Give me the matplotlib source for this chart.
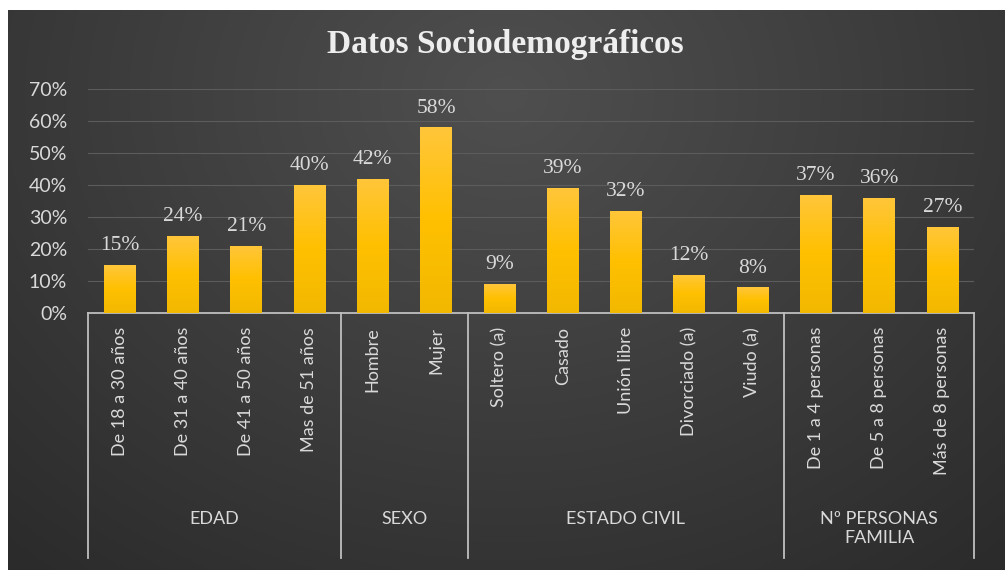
import matplotlib.pyplot as plt
import matplotlib.transforms as mtransforms
from matplotlib.colors import LinearSegmentedColormap
import numpy as np

# Datos
categorias = ['De 18 a 30 años', 'De 31 a 40 años', 'De 41 a 50 años', 'Mas de 51 años',
              'Hombre', 'Mujer',
              'Soltero (a)', 'Casado', 'Unión libre', 'Divorciado (a)', 'Viudo (a)',
              'De 1 a 4 personas', 'De 5 a 8 personas', 'Más de 8 personas']
valores = [0.15, 0.24, 0.21, 0.40, 0.42, 0.58, 0.09, 0.39, 0.32, 0.12, 0.08, 0.37, 0.36, 0.27]
grupos = ['EDAD', 'SEXO', 'ESTADO CIVIL', 'Nº PERSONAS\nFAMILIA']
tamano_grupos = [4, 2, 5, 3]

W, H = 1005, 577
fig = plt.figure(figsize=(W / 100, H / 100), dpi=100)
fig.patch.set_facecolor('white')

# Fondo oscuro con degradado
bg = fig.add_axes([8 / W, 7 / H, 996 / W, 560 / H])
bg.set_axis_off()
yy, xx = np.mgrid[0:1:200j, 0:1:300j]
r = np.sqrt(((xx - 0.5) / 0.75) ** 2 + ((yy - 0.15) / 1.1) ** 2)
grad = np.clip(1 - r, 0, 1)
base = 0.17 + 0.14 * grad
img = np.dstack([base, base, base])
bg.imshow(img, aspect='auto', extent=[0, 1, 0, 1], interpolation='bicubic')
bg.set_xlim(0, 1)
bg.set_ylim(0, 1)

ax = fig.add_axes([88 / W, (H - 313) / H, 886 / W, 224 / H])
ax.set_facecolor('none')
texto = '#d9d9d9'

x = np.arange(len(categorias))
bars = ax.bar(x, valores, width=0.5, color='#FFC000', zorder=2)

# Degradado en las barras
grad_bar = np.linspace(0, 1, 100).reshape(-1, 1)
cmap = LinearSegmentedColormap.from_list('oro', ['#f2b800', '#ffc000', '#ffc63a'])
for b in bars:
    x0, w, h = b.get_x(), b.get_width(), b.get_height()
    im = ax.imshow(grad_bar, cmap=cmap, aspect='auto', origin='lower',
                   extent=[x0, x0 + w, 0, h], zorder=3)
    im.set_clip_path(b)

ax.set_xlim(-0.5, len(categorias) - 0.5)
ax.set_ylim(0, 0.7)
ax.set_yticks(np.arange(0, 0.71, 0.1))
ax.set_yticklabels([f'{int(round(v * 100))}%' for v in np.arange(0, 0.71, 0.1)],
                   fontsize=14, color=texto, family='Lato')
ax.yaxis.grid(True, color='#5c5c5c', linewidth=0.8, zorder=0)
ax.set_axisbelow(True)
ax.tick_params(axis='y', length=0, pad=15)

ax.set_xticks(x)
ax.set_xticklabels(categorias, rotation=90, fontsize=13, color=texto, family='Lato')
ax.tick_params(axis='x', length=0, pad=10)

for s in ['top', 'right', 'left']:
    ax.spines[s].set_visible(False)
ax.spines['bottom'].set_color('#bfbfbf')
ax.spines['bottom'].set_linewidth(1.3)

# Etiquetas de valores
for xi, v in zip(x, valores):
    ax.annotate(f'{int(round(v * 100))}%', (xi, v), xytext=(0, 7), textcoords='offset points',
                ha='center', va='bottom', fontsize=15.5, color=texto, family='Liberation Serif')

# Separadores y etiquetas de grupo
trans = mtransforms.blended_transform_factory(ax.transData, ax.transAxes)
limites = np.concatenate([[0], np.cumsum(tamano_grupos)]) - 0.5
for lim in limites:
    ax.plot([lim, lim], [0, -1.095], transform=trans, color='#bfbfbf', lw=1.3, clip_on=False)
for g, a, b in zip(grupos, limites[:-1], limites[1:]):
    ax.text((a + b) / 2, -0.885, g, transform=trans, ha='center', va='top',
            fontsize=13, color=texto, family='Lato', linespacing=1.2)

fig.text(505 / W, 1 - 45 / H, 'Datos Sociodemográficos', ha='center', va='center',
         fontsize=24, fontweight='bold', color='#eeeeee', family='Liberation Serif')

fig.savefig('out.png', dpi=100, facecolor=fig.get_facecolor())
